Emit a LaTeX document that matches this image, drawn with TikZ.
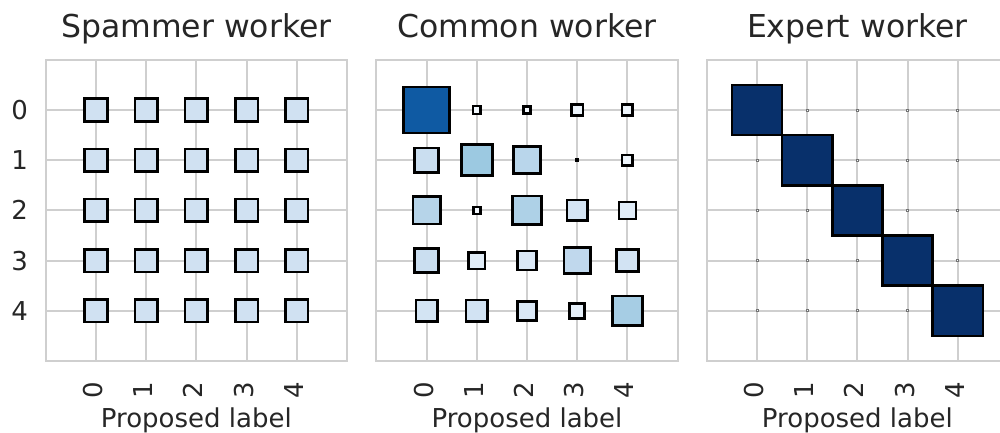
\documentclass[tikz,border=0pt]{standalone}
\usepackage{fontspec}
\setmainfont{DejaVu Sans}

% Blues colour map, nine steps
\definecolor{blues0}{HTML}{F7FBFF}
\definecolor{blues1}{HTML}{DEEBF7}
\definecolor{blues2}{HTML}{C6DBEF}
\definecolor{blues3}{HTML}{9ECAE1}
\definecolor{blues4}{HTML}{6BAED6}
\definecolor{blues5}{HTML}{4292C6}
\definecolor{blues6}{HTML}{2171B5}
\definecolor{blues7}{HTML}{08519C}
\definecolor{blues8}{HTML}{08306B}
\definecolor{axisgray}{HTML}{CFCFCF}
\definecolor{labelgray}{HTML}{262626}

% one Hinton square: [style]{row}{col}{weight}
\newcommand{\hintoncell}[4][]{%
  \pgfmathsetmacro\cellhalf{0.5*sqrt(#4)}%
  \pgfmathtruncatemacro\celllo{min(floor(#4*8),7)}%
  \pgfmathtruncatemacro\cellhi{\celllo+1}%
  \pgfmathsetmacro\cellmix{(#4*8-\celllo)*100}%
  \colorlet{cellfill}{blues\cellhi!\cellmix!blues\celllo}%
  \draw[cell, fill=cellfill, #1] ({#3-\cellhalf},{#2-\cellhalf}) rectangle ({#3+\cellhalf},{#2+\cellhalf});%
}

\begin{document}
\begin{tikzpicture}
  [
  x=1pt, y=-1pt, line join=miter,
  frame/.style={draw=axisgray, line width=2pt},
  gridline/.style={draw=axisgray, line width=2pt},
  cell/.style={draw=black, line width=2.6pt},
  dot/.style={draw=black!55, line width=0.8pt},
  tick/.style={text=labelgray, inner sep=0pt, font=\fontsize{26}{30}\selectfont},
  ytick/.style={tick, anchor=east, text height=19pt, text depth=0pt},
  xtick/.style={tick, anchor=east, rotate=90, text height=19pt, text depth=6.2pt},
  xlabel/.style={tick, anchor=base},
  title/.style={text=labelgray, inner sep=0pt, anchor=base, font=\fontsize{31.5}{36}\selectfont},
  ]

  \useasboundingbox (0,0) rectangle (1000,432);

  % axes of the three panels
  \foreach \px/\ttl [count=\p] in {96/Spammer worker, 426.6/Common worker, 757/Expert worker} {
    \begin{scope}[shift={(\px,110)}, x=50.2pt, y=-50.2pt]
      \foreach \i in {0,...,4} {
        \draw[gridline] (\i,-1) -- (\i,5);
        \draw[gridline] (-1,\i) -- (5,\i);
        \node[xtick] (xt\p\i) at (\i,5.41) {\i};
      }
      \draw[frame] (-1,-1) rectangle (5,5);
      \node[title] (title\p) at (2,-1.448) {\ttl};
      \node[xlabel] (xlabel\p) at (2,6.315) {Proposed label};
    \end{scope}
  }

  \foreach \i in {0,...,4}
    \node[ytick] (yt\i) at ({28},{110+50.2*\i}) {\i};

  % spammer
  \begin{scope}[shift={(96,110)}, x=50.2pt, y=-50.2pt]
    \foreach \r in {0,...,4}
      \foreach \c in {0,...,4}
        \hintoncell{\r}{\c}{0.2};
  \end{scope}

  % common
  \begin{scope}[shift={(426.6,110)}, x=50.2pt, y=-50.2pt]
    \foreach \row [count=\r from 0] in {{0.84,0.025,0.02,0.05,0.045},
                                        {0.23,0.38,0.29,0.001,0.044},
                                        {0.30,0.02,0.325,0.17,0.115},
                                        {0.23,0.11,0.145,0.27,0.19},
                                        {0.18,0.19,0.145,0.09,0.35}}
      \foreach \w [count=\c from 0] in \row
        \hintoncell{\r}{\c}{\w};
  \end{scope}

  % expert
  \begin{scope}[shift={(757,110)}, x=50.2pt, y=-50.2pt]
    \foreach \r in {0,...,4}
      \foreach \c in {0,...,4} {
        \ifnum\r=\c\relax
          \hintoncell{\r}{\c}{1}
        \else
          \hintoncell[dot]{\r}{\c}{0.0015}
        \fi
      }
  \end{scope}
\end{tikzpicture}
\end{document}
